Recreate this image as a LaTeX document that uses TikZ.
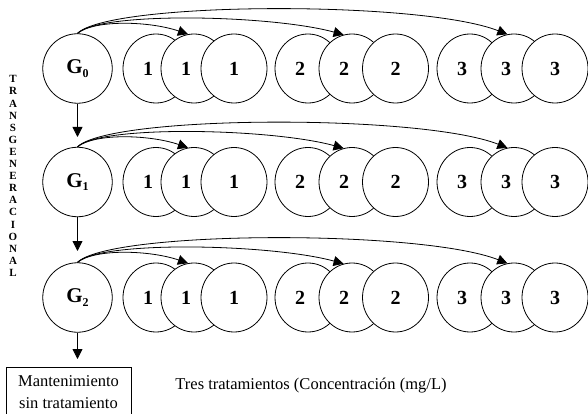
\documentclass[tikz,border=0pt]{standalone}
\usepackage{fontspec}
\setmainfont{Liberation Serif}
\usetikzlibrary{arrows.meta,shapes.geometric}
\newcommand{\gsub}[1]{\raisebox{-0.35ex}{\fontsize{12}{12}\selectfont #1}}
\begin{document}
\begin{tikzpicture}[x=1pt,y=-1pt,
  gc/.style={circle,draw,line width=0.8pt,minimum size=69.5pt,inner sep=0pt,fill=white,
    font=\fontsize{21}{21}\selectfont\bfseries},
  sc/.style={ellipse,draw,line width=0.8pt,minimum width=66pt,minimum height=69pt,inner sep=0pt,fill=white},
  dig/.style={font=\fontsize{20}{20}\selectfont\bfseries,inner sep=0pt},
  arr/.style={line width=0.8pt,-{Triangle[length=10pt,width=10pt]}},
  boxst/.style={draw,line width=0.8pt,minimum width=125pt,minimum height=49pt,inner sep=0pt,
    align=center,font=\fontsize{16.5}{22}\selectfont},
  txt/.style={font=\fontsize{16.5}{20}\selectfont,inner sep=0pt},
  vert/.style={font=\fontsize{11}{12.1}\selectfont\bfseries,align=center,inner sep=0pt}]
\useasboundingbox (0,0) rectangle (588,414);

\foreach \rw/\yy/\tip in {0/68.5/137,1/182/251,2/297.5/359} {
  \node[gc] (G\rw) at (77.5,\yy) {G\gsub{\rw}};
  \coordinate (T\rw) at (77.5,\tip);
  \foreach \gp/\ax/\bx/\cx in {1/156/194/234, 2/308/352/395.5, 3/470/514/555} {
    \node[sc,label={[dig,xshift=-8pt]center:\gp}] (R\rw a\gp) at (\ax,\yy) {};
    \node[sc,label={[dig,xshift=-8pt]center:\gp}] (R\rw b\gp) at (\bx,\yy) {};
    \node[sc,label={[dig]center:\gp}] (R\rw c\gp) at (\cx,\yy) {};
  }
  \draw[arr] (G\rw.north) .. controls +(17.5,-14) and +(-38,-13) .. (R\rw b1.100);
  \draw[arr] (G\rw.north) .. controls +(22.5,-22) and +(-73,-20) .. (R\rw b2.104);
  \draw[arr] (G\rw.north) .. controls +(32.5,-32) and +(-87,-34) .. (R\rw b3.101);
  \draw[arr] (G\rw.south) -- (T\rw);
}

\node[boxst,anchor=north] (mant) at (68.5,367) {Mantenimiento\\sin tratamiento};
\node[txt] (tres) at (311,386) {Tres tratamientos (Concentración (mg/L)};
\node[vert] (trans) at (13,176) {T\\R\\A\\N\\S\\G\\E\\N\\E\\R\\A\\C\\I\\O\\N\\A\\L};
\end{tikzpicture}
\end{document}
